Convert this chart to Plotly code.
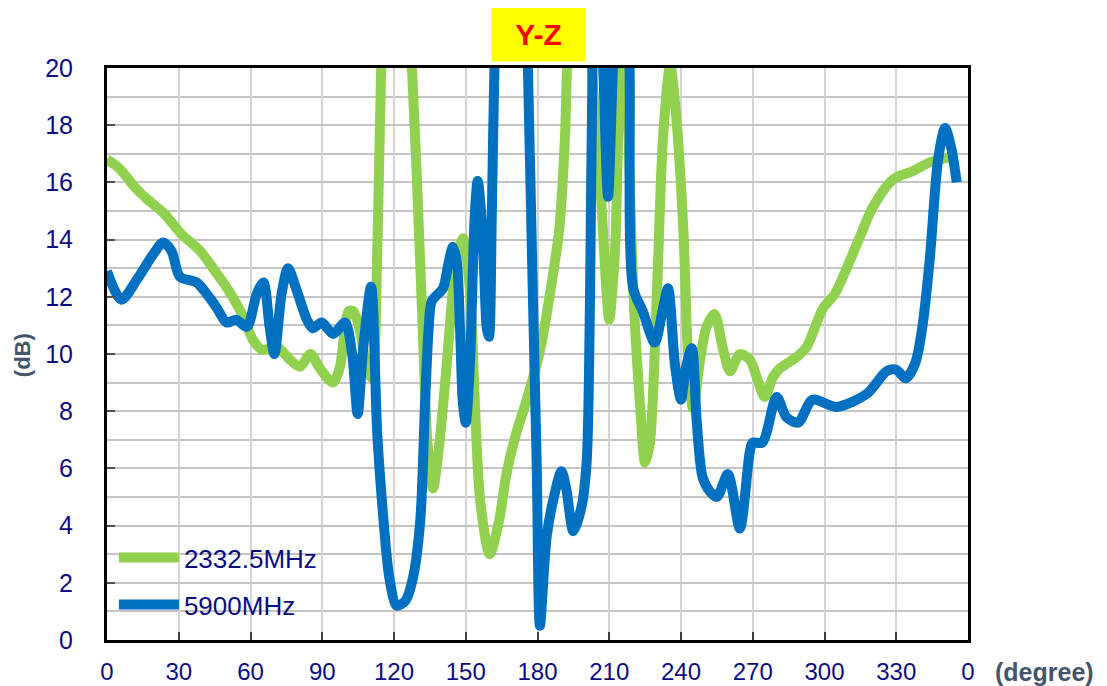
import plotly.graph_objects as go

# ---- data ----
green_deg = [0, 5, 12, 17, 24, 31, 39, 46, 51, 57, 61, 65, 71, 76.5, 80.7, 85, 89, 94.5, 97.4, 99.5,
             101, 103, 105.8, 108.7, 110.8, 113, 114.5, 117, 121, 125, 127.5, 129.5, 132, 134, 136.3,
             139, 142, 144.7, 146.7, 148.8, 151.7, 153.8, 156, 160, 164, 167, 171, 175.5, 181, 185,
             189, 191.5, 192.5, 196, 200, 202.7, 206, 209, 210, 212.4, 213.7, 215.3, 217.5, 220,
             222.8, 225, 227, 230, 232.5, 235.5, 238, 241, 243, 245, 248, 250.5, 254, 257.5, 260.5,
             264.6, 268.8, 272, 275, 278.5, 281.4, 288.5, 292.6, 296.8, 299.4, 304.3, 309.3, 314.8,
             320, 328.6, 337, 344, 351, 355]
green_db = [16.8, 16.5, 15.8, 15.4, 14.9, 14.2, 13.6, 12.8, 12.2, 11.3, 10.5, 10.15, 10.25, 9.8, 9.55,
            10.0, 9.5, 9.0, 9.55, 10.95, 11.5, 11.5, 10.8, 9.5, 9.15, 13.6, 19.5, 26, 29, 25, 20,
            16.3, 10.9, 6.9, 5.3, 6.9, 9.6, 12.3, 13.6, 14.05, 12.3, 8.3, 4.9, 3.0, 4.2, 5.8, 7.2,
            8.4, 10.1, 12.0, 14.3, 17.6, 20.5, 26, 26, 20, 16.3, 12.0, 11.2, 13.6, 17.6, 22, 19,
            12.3, 8.3, 6.2, 6.9, 12.3, 17.6, 20.1, 18.3, 14.3, 9.8, 8.1, 9.8, 10.9, 11.4, 10.2, 9.4,
            10.0, 9.8, 9.1, 8.5, 9.2, 9.5, 9.9, 10.25, 11.1, 11.6, 12.1, 13.0, 14.1, 15.1, 16.1,
            16.4, 16.7, 16.85, 16.85]

blue_deg = [0, 6, 12.5, 19.4, 23.5, 27, 30.5, 37.5, 41.7, 46, 50, 54, 58.5, 62.6, 65.4, 68, 70, 73,
            75.7, 79.4, 83.6, 86, 89.8, 94.5, 99.5, 102.5, 104.8, 107, 110.4, 113, 115.5, 118, 121,
            123, 125, 128, 131, 133, 134.5, 135.8, 140.5, 142.6, 144.6, 146.3, 147.6, 148.8, 150,
            151.7, 153.8, 155, 157, 158.8, 159.7, 160.9, 162, 165, 170, 174, 176, 178, 179.7, 181,
            183.8, 186.6, 190, 192, 195, 198.5, 200.6, 202, 203, 205, 207.5, 209.5, 211.5, 214,
            217, 218.5, 220, 224, 229, 232.5, 234.6, 237.5, 240, 242, 244.5, 246.6, 249, 252, 255,
            259.6, 264.6, 268.8, 270, 274, 280, 284, 289, 295, 305, 317.6, 326, 330, 334, 338, 341,
            344, 347.5, 350.4, 353, 355.3]
blue_db = [12.9, 11.9, 12.6, 13.5, 13.9, 13.6, 12.7, 12.5, 12.1, 11.6, 11.1, 11.2, 10.95, 12.1, 12.5,
           10.95, 10.0, 12.1, 13.0, 12.2, 11.2, 10.9, 11.1, 10.7, 11.1, 10.0, 7.9, 10.1, 12.35, 7.2,
           4.3, 2.2, 1.2, 1.25, 1.4, 2.2, 4.2, 8.3, 10.9, 11.85, 12.3, 13.1, 13.75, 13.2, 10.9, 8.3,
           7.6, 9.6, 14.9, 16.05, 14.3, 10.9, 10.6, 14.9, 20, 28, 30, 27, 20, 12.3, 6.0, 0.5, 3.6,
           4.9, 5.9, 5.3, 3.8, 4.7, 6.3, 12.3, 20, 26, 20, 15.5, 20, 25, 25, 20, 12.3, 11.5, 10.4,
           11.6, 12.3, 9.6, 8.4, 9.5, 10.2, 7.6, 5.7, 5.2, 5.0, 5.8, 3.9, 6.6, 6.9, 6.9, 8.5, 7.8,
           7.6, 8.4, 8.15, 8.6, 9.4, 9.45, 9.15, 9.7, 11.0, 13.3, 16.8, 17.9, 17.2, 16.0]

x_tickvals = [0, 30, 60, 90, 120, 150, 180, 210, 240, 270, 300, 330, 360]
x_ticktext = ["0", "30", "60", "90", "120", "150", "180", "210", "240", "270", "300", "330", "0"]
y_tickvals = [0, 2, 4, 6, 8, 10, 12, 14, 16, 18, 20]

series_names = ["2332.5MHz", "5900MHz"]
title_text = "Y-Z"

# ---- figure ----
NAVY = "#0c0c84"
GRAYTXT = "#44546a"

fig = go.Figure()
fig.add_trace(go.Scatter(x=green_deg, y=green_db, mode="lines", name=series_names[0],
                         legendgroup="g1",
                         line=dict(color="#92d050", width=10, shape="spline", smoothing=0.8)))
fig.add_trace(go.Scatter(x=blue_deg, y=blue_db, mode="lines", name=series_names[1],
                         legendgroup="g2",
                         line=dict(color="#0070c0", width=10, shape="spline", smoothing=0.8)))

# page body has an 8px default margin, so the figure is sized 8px smaller
fig.update_layout(
    width=1099, height=678,
    margin=dict(l=99, r=139, t=60, b=46),
    paper_bgcolor="white", plot_bgcolor="white",
    font=dict(family="Liberation Sans, Arial, sans-serif", color=NAVY),
    showlegend=True,
    legend=dict(x=0.008, y=0.185, xanchor="left", yanchor="top",
                bgcolor="rgba(0,0,0,0)", borderwidth=0,
                font=dict(size=26, color=NAVY, family="Liberation Sans, Arial, sans-serif"),
                itemwidth=60, tracegroupgap=10, traceorder="grouped"),
)

fig.update_xaxes(range=[0, 360], tickmode="array", tickvals=x_tickvals, ticktext=x_ticktext,
                 automargin=False,
                 showgrid=True, gridcolor="#d4d4d4", gridwidth=2,
                 showline=True, linecolor="black", linewidth=3, mirror=True,
                 ticks="inside", ticklen=8, tickwidth=1.5, tickcolor="#404040",
                 tickfont=dict(size=24, color=NAVY), ticklabelstandoff=8,
                 zeroline=False, fixedrange=True)
fig.update_yaxes(range=[0, 20], tickmode="array", tickvals=y_tickvals,
                 automargin=False,
                 showgrid=True, gridcolor="#c4c4c4", gridwidth=1.5,
                 minor=dict(dtick=1, showgrid=True, gridcolor="#c4c4c4", gridwidth=1.5),
                 showline=True, linecolor="black", linewidth=3, mirror=True,
                 ticks="inside", ticklen=8, tickwidth=2, tickcolor="#505050",
                 tickfont=dict(size=25, color=NAVY), ticklabelstandoff=26,
                 zeroline=False, fixedrange=True)

fig.add_annotation(text="<b>" + title_text + "</b>", xref="paper", yref="paper",
                   x=0.5006, y=1.0594, xanchor="center", yanchor="middle", showarrow=False,
                   font=dict(size=30, color="#ff0000", family="Liberation Sans, Arial, sans-serif"),
                   bgcolor="#ffff00", width=79, height=40, borderpad=7)
fig.add_annotation(text="<b>(dB)</b>", xref="paper", yref="paper",
                   x=-0.0987, y=0.498, xanchor="center", yanchor="middle", showarrow=False,
                   textangle=-90, font=dict(size=22, color=GRAYTXT))
fig.add_annotation(text="<b>(degree)</b>", xref="paper", yref="paper",
                   x=1.0894, y=-0.056, xanchor="center", yanchor="middle", showarrow=False,
                   font=dict(size=25, color=GRAYTXT))

fig.write_html("out.html")
